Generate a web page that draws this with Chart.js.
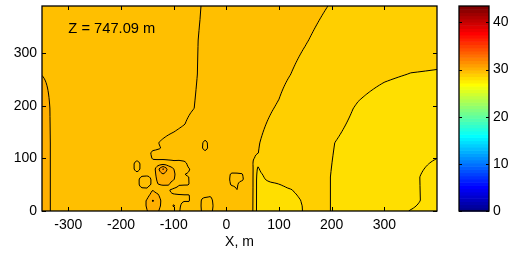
<!DOCTYPE html>
<html>
<head>
<meta charset="utf-8">
<script src="https://cdn.jsdelivr.net/npm/chart.js@4.4.1/dist/chart.umd.min.js"></script>
<style>
  html, body { margin: 0; padding: 0; background: #fff; }
  #wrap { width: 518px; height: 261px; }
</style>
</head>
<body>
<div id="wrap"><canvas id="contourChart" width="518" height="261"></canvas></div>
<script>
// axis ranges and ticks
const xRange = [-350, 400];
const yRange = [0, 390];
const colorRange = [0, 43.5];
const xTicks = [-300, -200, -100, 0, 100, 200, 300];
const yTicks = [0, 100, 200, 300];
const colorTicks = [0, 10, 20, 30, 40];
const sliceLabel = 'Z = 747.09 m';

// contour levels (same units as the colour bar)
const levels = [29.0, 29.5, 30.0, 30.3, 30.6, 31.0, 31.4];

// coarse field (rows = gridY, cols = gridX)
const gridX = [-350, -300, -250, -200, -150, -100, -50, 0, 50, 100, 150, 200, 250, 300, 350, 400];
const gridY = [0, 20, 65, 130, 165, 195, 260, 325, 390];
const field = [
  [30.66, 30.47, 30.42, 30.38, 30.35, 30.33, 30.28, 30.16, 30.01, 29.85, 29.70, 29.49, 29.32, 29.12, 28.99, 28.90],
  [30.66, 30.47, 30.42, 30.38, 30.347, 30.327, 30.282, 30.16, 30.013, 29.853, 29.70, 29.49, 29.314, 29.13, 29.07, 28.88],
  [30.66, 30.47, 30.42, 30.38, 30.34, 30.32, 30.285, 30.16, 30.02, 29.86, 29.70, 29.49, 29.30, 29.15, 29.08, 28.85],
  [30.66, 30.47, 30.42, 30.38, 30.33, 30.26, 30.20, 30.12, 30.03, 29.92, 29.72, 29.52, 29.35, 29.22, 29.12, 29.13],
  [30.66, 30.465, 30.425, 30.39, 30.36, 30.33, 30.26, 30.147, 30.046, 29.955, 29.79, 29.606, 29.41, 29.263, 29.163, 29.14],
  [30.66, 30.46, 30.43, 30.40, 30.37, 30.335, 30.29, 30.17, 30.06, 29.985, 29.85, 29.68, 29.46, 29.30, 29.20, 29.15],
  [30.598, 30.55, 30.49, 30.44, 30.39, 30.345, 30.295, 30.21, 30.12, 30.04, 29.95, 29.83, 29.66, 29.56, 29.49, 29.47],
  [30.56, 30.51, 30.46, 30.42, 30.38, 30.34, 30.297, 30.23, 30.15, 30.08, 30.01, 29.93, 29.85, 29.78, 29.72, 29.68],
  [30.52, 30.48, 30.44, 30.40, 30.37, 30.34, 30.302, 30.25, 30.19, 30.13, 30.06, 29.99, 29.92, 29.86, 29.80, 29.76]
];

// small-scale deviations near the ground (added to the coarse field)
const detailX = [-180, -170, -160, -150, -140, -130, -120, -110, -100, -90, -80, -70, -60, -50, -40, -30, -20, -10,
  0, 10, 20, 30, 40, 50, 60, 70, 80, 90, 100, 110, 120, 130, 140, 150, 160];
const detailY = [0, 10, 20, 30, 40, 50, 60, 70, 80, 90, 100, 110, 120, 130, 140];
const detail = [
  [0, 0, 0.05, 0.25, 0.36, 0.31, 0, 0, 0, 0, -0.1, 0, 0, 0, 0.1, 0.12, 0, 0, 0, 0, 0, 0, 0, 0.03, -0.68, -0.65, -0.62, -0.59, -0.555, -0.52, -0.49, -0.46, -0.33, -0.08, 0],
  [0, 0, 0.1, 0.3, 0.56, 0.42, 0.1, 0, 0.35, 0, -0.05, 0, 0, 0, 0.12, 0.15, 0, 0, 0, 0, 0, 0, 0, 0.03, -0.68, -0.65, -0.62, -0.59, -0.555, -0.52, -0.49, -0.46, -0.31, -0.08, 0],
  [0, 0, 0.1, 0.3, 0.71, 0.47, 0.1, 0, 0, 0, 0, 0, 0, 0, 0.1, 0.12, 0, 0, 0, 0, 0, 0, 0, 0.03, -0.68, -0.65, -0.62, -0.59, -0.555, -0.52, -0.49, -0.46, -0.26, 0, 0],
  [0, 0, 0, 0.15, 0.41, 0.32, 0, 0, 0, 0, 0, 0, 0, 0, 0, 0.05, 0, 0, 0, 0, 0, 0, 0, 0.03, -0.68, -0.65, -0.62, -0.59, -0.555, -0.52, -0.49, -0.34, -0.13, 0, 0],
  [0, 0, 0, 0, 0.26, 0.1, 0, 0, -0.1, -0.12, -0.1, 0, 0, 0, 0, 0, 0, 0, 0, 0, 0.2, 0, 0, 0.03, -0.68, -0.65, -0.62, -0.59, -0.555, -0.52, -0.39, -0.18, 0, 0, 0],
  [0, 0, -0.12, -0.12, 0, 0.25, 0.3, 0.3, 0.15, 0, 0, 0, 0, 0, 0, 0, 0, 0, 0, 0.2, 0.25, 0, 0, 0.03, -0.68, -0.65, -0.62, -0.59, -0.4, -0.24, 0, 0, 0, 0, 0],
  [0, 0, -0.12, -0.12, 0, 0.35, 0.4, 0.35, 0.3, 0.1, 0, 0, 0, 0, 0, 0, 0, 0, 0, 0.25, 0.28, 0.3, 0, 0.03, -0.68, -0.53, -0.32, -0.05, 0, 0, 0, 0, 0, 0, 0],
  [0, 0, 0, 0, 0, 0.45, 0.65, 0.45, 0.35, 0.1, 0, 0, 0, 0, 0, 0, 0, 0, 0, 0.22, 0.25, 0.25, 0, 0.03, -0.64, -0.43, -0.15, 0, 0, 0, 0, 0, 0, 0, 0],
  [0, -0.12, 0, 0, 0, 0.55, 1.15, 0.55, 0.3, 0.1, 0.04, 0.02, 0, 0, 0, 0, 0, 0, 0, 0, 0, 0, 0, 0.03, -0.57, -0.25, 0, 0, 0, 0, 0, 0, 0, 0, 0],
  [0, -0.12, 0, 0, 0, 0.1, 0.15, 0.1, 0.05, 0.05, 0.05, 0, 0, 0, 0, 0, 0, 0, 0, 0, 0, 0, 0, 0, -0.39, -0.1, 0, 0, 0, 0, 0, 0, 0, 0, 0],
  [0, 0, 0, 0, -0.03, -0.05, -0.05, -0.04, -0.02, 0, 0, 0, 0, 0, 0, 0, 0, 0, 0, 0, 0, 0, 0, 0, -0.05, 0, 0, 0, 0, 0, 0, 0, 0, 0, 0],
  [0, 0, 0, 0, -0.04, -0.03, 0, 0, 0, 0, 0, 0, 0, 0, 0, 0, 0, 0, 0, 0, 0, 0, 0, 0, 0, 0, 0, 0, 0, 0, 0, 0, 0, 0, 0],
  [0, 0, 0, 0, 0, 0, 0, 0, 0, 0, 0, 0, 0, 0, 0.2, 0, 0, 0, 0, 0, 0, 0, 0, 0, 0, 0, 0, 0, 0, 0, 0, 0, 0, 0, 0],
  [0, 0, 0, 0, 0, 0, 0, 0, 0, 0, 0, 0, 0, 0, 0.2, 0, 0, 0, 0, 0, 0, 0, 0, 0, 0, 0, 0, 0, 0, 0, 0, 0, 0, 0, 0],
  [0, 0, 0, 0, 0, 0, 0, 0, 0, 0, 0, 0, 0, 0, 0, 0, 0, 0, 0, 0, 0, 0, 0, 0, 0, 0, 0, 0, 0, 0, 0, 0, 0, 0, 0]
];

// style: jet(64) rows used to fill the bands between levels
const fillRows = [42, 42, 43, 44, 44, 45, 46, 47];
const FONT = 'Liberation Sans, Arial, Helvetica, sans-serif';

function jetRow(k) {
  const u = i => i <= 16 ? i / 16 : (i <= 31 ? 1 : (48 - i) / 16);
  const pick = i => (i >= 1 && i <= 47) ? u(i) : 0;
  return [pick(k - 24), pick(k - 8), pick(k + 8)].map(c => Math.round(c * 255));
}

function bilinear(xs, ys, grid, x, y) {
  let i = 0;
  while (i < xs.length - 2 && x > xs[i + 1]) i++;
  let j = 0;
  while (j < ys.length - 2 && y > ys[j + 1]) j++;
  const tx = Math.min(1, Math.max(0, (x - xs[i]) / (xs[i + 1] - xs[i])));
  const ty = Math.min(1, Math.max(0, (y - ys[j]) / (ys[j + 1] - ys[j])));
  const a = grid[j][i], b = grid[j][i + 1], c = grid[j + 1][i], d = grid[j + 1][i + 1];
  return a * (1 - tx) * (1 - ty) + b * tx * (1 - ty) + c * (1 - tx) * ty + d * tx * ty;
}

function fieldAt(x, y) {
  let v = bilinear(gridX, gridY, field, x, y);
  if (x >= detailX[0] && x <= detailX[detailX.length - 1] && y >= detailY[0] && y <= detailY[detailY.length - 1]) {
    v += bilinear(detailX, detailY, detail, x, y);
  }
  return v;
}

function binOf(v) {
  let b = 0;
  while (b < levels.length && v >= levels[b]) b++;
  return b;
}

function contourSegments(vals, w, h, level) {
  const W = w + 1;
  const segs = [];
  const t = (a, b) => (level - a) / (b - a);
  for (let j = 0; j < h; j++) {
    for (let i = 0; i < w; i++) {
      const v0 = vals[j * W + i], v1 = vals[j * W + i + 1];
      const v2 = vals[(j + 1) * W + i + 1], v3 = vals[(j + 1) * W + i];
      const idx = (v0 >= level ? 8 : 0) | (v1 >= level ? 4 : 0) | (v2 >= level ? 2 : 0) | (v3 >= level ? 1 : 0);
      if (idx === 0 || idx === 15) continue;
      const top = () => [i + t(v0, v1), j];
      const right = () => [i + 1, j + t(v1, v2)];
      const bottom = () => [i + t(v3, v2), j + 1];
      const left = () => [i, j + t(v0, v3)];
      const centre = (v0 + v1 + v2 + v3) / 4 >= level;
      switch (idx) {
        case 1: case 14: segs.push([left(), bottom()]); break;
        case 2: case 13: segs.push([bottom(), right()]); break;
        case 3: case 12: segs.push([left(), right()]); break;
        case 4: case 11: segs.push([top(), right()]); break;
        case 6: case 9: segs.push([top(), bottom()]); break;
        case 7: case 8: segs.push([left(), top()]); break;
        case 5:
          if (centre) { segs.push([left(), top()]); segs.push([bottom(), right()]); }
          else { segs.push([top(), right()]); segs.push([left(), bottom()]); }
          break;
        case 10:
          if (centre) { segs.push([top(), right()]); segs.push([left(), bottom()]); }
          else { segs.push([left(), top()]); segs.push([bottom(), right()]); }
          break;
      }
    }
  }
  return segs;
}

const contourPlugin = {
  id: 'contourFill',
  beforeDatasetsDraw(chart) {
    const { ctx, chartArea: a, scales: { x, y } } = chart;
    const x0 = Math.round(a.left), y0 = Math.round(a.top);
    const w = Math.round(a.right) - x0, h = Math.round(a.bottom) - y0;

    // filled bands, one value per pixel centre
    const off = document.createElement('canvas');
    off.width = w; off.height = h;
    const octx = off.getContext('2d');
    const img = octx.createImageData(w, h);
    const colours = fillRows.map(jetRow);
    for (let j = 0; j < h; j++) {
      const dy = y.getValueForPixel(y0 + j + 0.5);
      for (let i = 0; i < w; i++) {
        const c = colours[binOf(fieldAt(x.getValueForPixel(x0 + i + 0.5), dy))];
        const p = (j * w + i) * 4;
        img.data[p] = c[0]; img.data[p + 1] = c[1]; img.data[p + 2] = c[2]; img.data[p + 3] = 255;
      }
    }
    octx.putImageData(img, 0, 0);
    ctx.drawImage(off, x0, y0);

    // contour lines from values at pixel corners
    const vals = new Float32Array((w + 1) * (h + 1));
    for (let j = 0; j <= h; j++) {
      const dy = y.getValueForPixel(y0 + j);
      for (let i = 0; i <= w; i++) vals[j * (w + 1) + i] = fieldAt(x.getValueForPixel(x0 + i), dy);
    }
    ctx.save();
    ctx.beginPath();
    ctx.rect(x0, y0, w, h);
    ctx.clip();
    ctx.strokeStyle = '#000';
    ctx.lineWidth = 1;
    ctx.beginPath();
    levels.forEach(lv => {
      contourSegments(vals, w, h, lv).forEach(s => {
        ctx.moveTo(x0 + s[0][0], y0 + s[0][1]);
        ctx.lineTo(x0 + s[1][0], y0 + s[1][1]);
      });
    });
    ctx.stroke();
    ctx.restore();
  },
  afterDraw(chart) {
    const { ctx, chartArea: a, scales: { x, y, cbar } } = chart;
    const tick = 4;
    ctx.save();
    ctx.strokeStyle = '#000';
    ctx.lineWidth = 1;
    ctx.beginPath();
    xTicks.forEach(v => {
      const px = Math.round(x.getPixelForValue(v)) + 0.5;
      ctx.moveTo(px, a.bottom); ctx.lineTo(px, a.bottom - tick);
      ctx.moveTo(px, a.top); ctx.lineTo(px, a.top + tick);
    });
    yTicks.forEach(v => {
      const py = Math.round(y.getPixelForValue(v)) + 0.5;
      ctx.moveTo(a.left, py); ctx.lineTo(a.left + tick, py);
      ctx.moveTo(a.right, py); ctx.lineTo(a.right - tick, py);
    });
    ctx.stroke();
    ctx.lineWidth = 1.3;
    ctx.strokeRect(a.left, a.top, a.right - a.left, a.bottom - a.top);

    // label inside the axes
    ctx.fillStyle = '#000';
    ctx.font = '14.7px ' + FONT;
    ctx.textAlign = 'left';
    ctx.textBaseline = 'alphabetic';
    ctx.fillText(sliceLabel, x.getPixelForValue(-300), y.getPixelForValue(339));

    // colour bar
    const cbL = a.right + 22, cbR = a.right + 52;
    for (let k = 0; k < 64; k++) {
      const lo = colorRange[0] + (colorRange[1] - colorRange[0]) * k / 64;
      const hi = colorRange[0] + (colorRange[1] - colorRange[0]) * (k + 1) / 64;
      const c = jetRow(k + 1);
      const yTop = cbar.getPixelForValue(hi), yBot = cbar.getPixelForValue(lo);
      ctx.fillStyle = `rgb(${c[0]},${c[1]},${c[2]})`;
      ctx.fillRect(cbL, yTop, cbR - cbL, yBot - yTop + 0.6);
    }
    ctx.lineWidth = 1;
    ctx.beginPath();
    colorTicks.forEach(v => {
      const py = Math.round(cbar.getPixelForValue(v)) + 0.5;
      ctx.moveTo(cbL, py); ctx.lineTo(cbL + 3, py);
      ctx.moveTo(cbR, py); ctx.lineTo(cbR - 3, py);
    });
    ctx.stroke();
    ctx.lineWidth = 1.3;
    ctx.strokeRect(cbL, cbar.getPixelForValue(colorRange[1]), cbR - cbL,
      cbar.getPixelForValue(colorRange[0]) - cbar.getPixelForValue(colorRange[1]));
    ctx.restore();
  }
};

const tickFont = { family: FONT, size: 14 };
const noPadV = s => { s.paddingTop = 0; s.paddingBottom = 0; };

new Chart(document.getElementById('contourChart'), {
  type: 'scatter',
  data: { datasets: [] },
  options: {
    responsive: false,
    animation: false,
    events: [],
    layout: { autoPadding: false, padding: { top: 6, left: 0, right: 0, bottom: 0 } },
    plugins: { legend: { display: false }, tooltip: { enabled: false } },
    scales: {
      x: {
        type: 'linear', min: xRange[0], max: xRange[1],
        afterBuildTicks: s => { s.ticks = xTicks.map(v => ({ value: v })); },
        afterFit: s => { s.height = 50; s.paddingLeft = 0; s.paddingRight = 0; },
        grid: { display: false, drawTicks: false },
        border: { display: false },
        ticks: { color: '#000', font: tickFont, padding: 6, maxRotation: 0, autoSkip: false },
        title: { display: true, text: 'X, m', color: '#000', font: tickFont, padding: { top: 0, bottom: 10 } }
      },
      y: {
        type: 'linear', min: yRange[0], max: yRange[1],
        afterBuildTicks: s => { s.ticks = yTicks.map(v => ({ value: v })); },
        afterFit: s => { s.width = 42; noPadV(s); },
        grid: { display: false, drawTicks: false },
        border: { display: false },
        ticks: { color: '#000', font: tickFont, padding: 5, autoSkip: false }
      },
      cbar: {
        axis: 'y', type: 'linear', position: 'right', min: colorRange[0], max: colorRange[1],
        afterBuildTicks: s => { s.ticks = colorTicks.map(v => ({ value: v })); },
        afterFit: s => { s.width = 81; noPadV(s); },
        grid: { display: false, drawTicks: false },
        border: { display: false },
        ticks: { color: '#000', font: tickFont, padding: 56, autoSkip: false }
      }
    }
  },
  plugins: [contourPlugin]
});
</script>
</body>
</html>
